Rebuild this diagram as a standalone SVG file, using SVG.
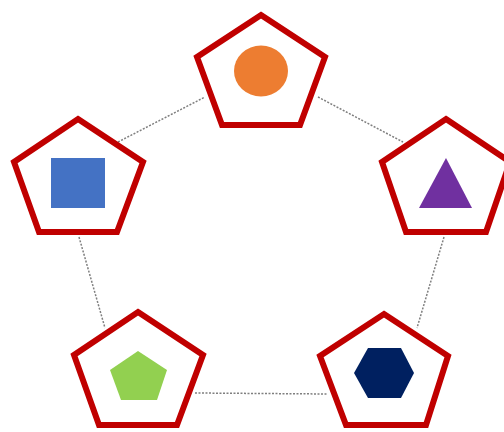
<svg xmlns="http://www.w3.org/2000/svg" width="504" height="432" viewBox="0 0 504 432">
<style>
.frame{fill:#fff;stroke:#c00000;stroke-width:6;stroke-linejoin:miter}
.link{stroke:#7f7f7f;stroke-width:1.5;stroke-dasharray:2 1.5;fill:none}
</style>
<rect width="504" height="432" fill="#fff"/>
<g id="connectors">
<line class="link" x1="118" y1="142" x2="205" y2="97"/>
<line class="link" x1="318" y1="97" x2="403" y2="142"/>
<line class="link" x1="79" y1="237" x2="105" y2="328"/>
<line class="link" x1="444" y1="237" x2="417" y2="328"/>
<line class="link" x1="195" y1="393" x2="328" y2="394"/>
</g>
<g id="node-top">
<polygon class="frame" points="261,15 325,57 300,125 222,125 197,57"/>
<ellipse cx="261" cy="71" rx="27" ry="25.5" fill="#ed7d31"/>
</g>
<g id="node-left">
<polygon class="frame" points="78,119 143,162 117,232 39,232 14,162"/>
<rect x="51" y="158" width="54" height="50" fill="#4472c4"/>
</g>
<g id="node-right">
<polygon class="frame" points="446,119 510,162 486,232 406,232 382,162"/>
<polygon points="446,158 472,208 419,208" fill="#7030a0"/>
</g>
<g id="node-bottom-left">
<polygon class="frame" points="138,312 203,355 177,425 99,425 74,355"/>
<polygon points="138,351 167,370 157,400 121,400 110,370" fill="#92d050"/>
</g>
<g id="node-bottom-right">
<polygon class="frame" points="384,314 448,356 426,425 346,425 320,356"/>
<polygon points="368,348 401,348 414,373 401,398 368,398 354,373" fill="#002060"/>
</g>
</svg>
